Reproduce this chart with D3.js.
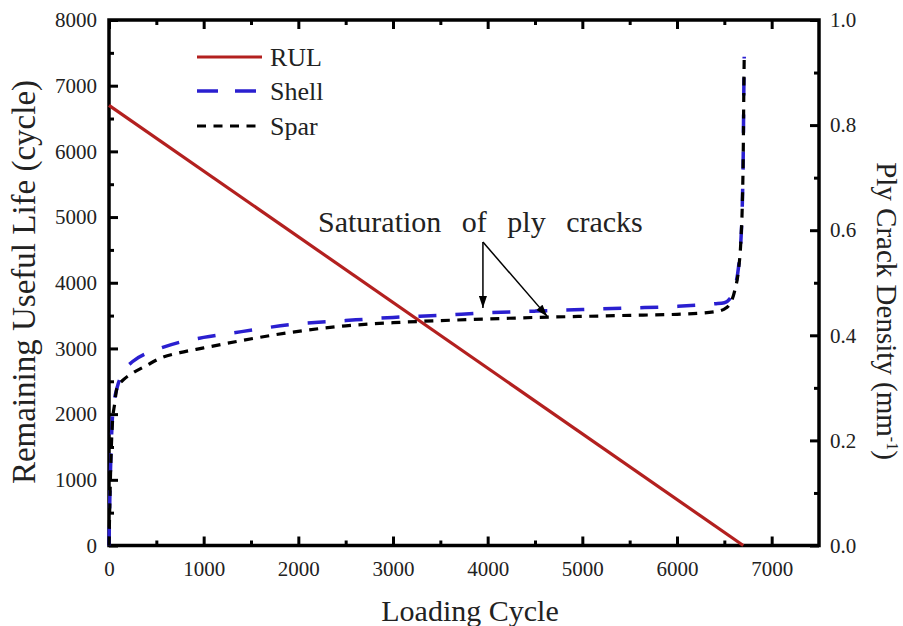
<!DOCTYPE html>
<html><head><meta charset="utf-8">
<script src="https://cdn.jsdelivr.net/npm/d3@7"></script>
<style>body{margin:0;background:#fff;} text{font-family:"Liberation Serif","Times New Roman",serif;fill:#222;}</style>
</head><body>
<svg id="c" width="903" height="626"></svg>
<script>
const xTicks = [0,1000,2000,3000,4000,5000,6000,7000];
const yLeftTicks = [0,1000,2000,3000,4000,5000,6000,7000,8000];
const yRightTicks = [0.0,0.2,0.4,0.6,0.8,1.0];
const rulCycles = [0, 6700];
const rulValues = [6700, 0];
const cycles = [0,10,20,35,60,85,150,250,400,550,750,1000,1400,1900,2500,3000,3500,4000,4500,5000,5500,6000,6400,6500,6560,6610,6650,6675,6690,6700,6705,6710];
const shell = [0,0.10,0.17,0.24,0.28,0.30,0.33,0.35,0.366,0.376,0.387,0.396,0.407,0.42,0.428,0.434,0.438,0.443,0.446,0.449,0.452,0.455,0.46,0.462,0.47,0.49,0.53,0.58,0.65,0.75,0.85,0.93];
const spar = [0,0.09,0.16,0.23,0.27,0.30,0.315,0.328,0.343,0.357,0.367,0.376,0.39,0.405,0.418,0.424,0.428,0.431,0.434,0.436,0.438,0.440,0.445,0.45,0.46,0.485,0.525,0.58,0.65,0.75,0.85,0.93];

const svg = d3.select("#c");
const L=109, R=819, T=20, B=545.5;
const x = d3.scaleLinear().domain([0,7500]).range([L,R]);
const yL = d3.scaleLinear().domain([0,8000]).range([B,T]);
const yR = d3.scaleLinear().domain([0,1.0]).range([B,T]);

const minorX = d3.range(500,7500,1000);
const minorYL = d3.range(500,8000,1000);
const minorYR = d3.range(0.1,1.0,0.2);

function ticks(g, axis){ g.call(axis); g.select(".domain").remove(); g.selectAll("line").attr("stroke","#000").attr("stroke-width",3); g.selectAll("text").attr("font-size",21).attr("font-family","Liberation Serif").attr("fill","#222"); }

// bottom
svg.append("g").attr("transform",`translate(0,${B})`).call(g=>ticks(g,d3.axisBottom(x).tickValues(xTicks).tickSizeInner(-9).tickSizeOuter(0).tickPadding(16).tickFormat(d3.format("d"))));
svg.append("g").attr("transform",`translate(0,${B})`).call(g=>ticks(g,d3.axisBottom(x).tickValues(minorX).tickSize(-5).tickFormat("")));
// top
svg.append("g").attr("transform",`translate(0,${T})`).call(g=>ticks(g,d3.axisTop(x).tickValues(xTicks).tickSize(-9).tickFormat("")));
svg.append("g").attr("transform",`translate(0,${T})`).call(g=>ticks(g,d3.axisTop(x).tickValues(minorX).tickSize(-5).tickFormat("")));
// left
svg.append("g").attr("transform",`translate(${L},0)`).call(g=>ticks(g,d3.axisLeft(yL).tickValues(yLeftTicks).tickSizeInner(-9).tickSizeOuter(0).tickPadding(12).tickFormat(d3.format("d"))));
svg.append("g").attr("transform",`translate(${L},0)`).call(g=>ticks(g,d3.axisLeft(yL).tickValues(minorYL).tickSize(-5).tickFormat("")));
// right
svg.append("g").attr("transform",`translate(${R},0)`).call(g=>ticks(g,d3.axisRight(yR).tickValues(yRightTicks).tickSizeInner(-9).tickSizeOuter(0).tickPadding(11).tickFormat(d3.format(".1f"))));
svg.append("g").attr("transform",`translate(${R},0)`).call(g=>ticks(g,d3.axisRight(yR).tickValues(minorYR).tickSize(-5).tickFormat("")));

// frame
svg.append("rect").attr("x",L).attr("y",T).attr("width",R-L).attr("height",B-T).attr("fill","none").attr("stroke","#000").attr("stroke-width",3.5);

// RUL
const rul = rulCycles.map((c,i)=>[c,rulValues[i]]);
svg.append("path").datum(rul).attr("d",d3.line().x(d=>x(d[0])).y(d=>yL(d[1]))).attr("fill","none").attr("stroke","#b3201f").attr("stroke-width",3.2);

const shellD = cycles.map((c,i)=>[c,shell[i]]);
const sparD = cycles.map((c,i)=>[c,spar[i]]);
const ln = d3.line().x(d=>x(d[0])).y(d=>yR(d[1])).curve(d3.curveMonotoneX);
svg.append("path").datum(shellD).attr("d",ln).attr("fill","none").attr("stroke","#2a1fd0").attr("stroke-width",3.5).attr("stroke-dasharray","18,19");
svg.append("path").datum(sparD).attr("d",ln).attr("fill","none").attr("stroke","#000").attr("stroke-width",3.2).attr("stroke-dasharray","9,7.5");

// legend
const leg = [{n:"RUL",c:"#b3201f",d:null,w:3.2,y:57},{n:"Shell",c:"#2a1fd0",d:"21,17",w:3.5,y:91},{n:"Spar",c:"#000",d:"9,7.5",w:3.2,y:126}];
leg.forEach(l=>{
  svg.append("line").attr("x1",197).attr("x2",262).attr("y1",l.y).attr("y2",l.y).attr("stroke",l.c).attr("stroke-width",l.w).attr("stroke-dasharray",l.d);
  svg.append("text").attr("x",270).attr("y",l.y+9).attr("font-size",26).text(l.n);
});

// annotation
svg.append("text").attr("x",318).attr("y",232).attr("font-size",30).attr("word-spacing",13).text("Saturation of ply cracks");
svg.append("defs").append("marker").attr("id","ar").attr("viewBox","0 0 12 8").attr("refX",12).attr("refY",4).attr("markerWidth",13).attr("markerHeight",8).attr("markerUnits","userSpaceOnUse").attr("orient","auto")
  .append("path").attr("d","M0,0 L12,4 L0,8 z").attr("fill","#000");
const ax0=3950, ay0=4620;
svg.append("line").attr("x1",x(ax0)).attr("y1",yL(ay0)).attr("x2",x(3950)).attr("y2",yR(0.452)).attr("stroke","#000").attr("stroke-width",1.5).attr("marker-end","url(#ar)");
svg.append("line").attr("x1",x(ax0)).attr("y1",yL(ay0)).attr("x2",x(4630)).attr("y2",yR(0.436)).attr("stroke","#000").attr("stroke-width",1.5).attr("marker-end","url(#ar)");

// axis titles
svg.append("text").attr("x",470).attr("y",621).attr("text-anchor","middle").attr("font-size",30).text("Loading Cycle");
svg.append("text").attr("transform",`translate(35,282) rotate(-90)`).attr("text-anchor","middle").attr("font-size",33).text("Remaining Useful Life (cycle)");
const rt = svg.append("text").attr("transform",`translate(877,311) rotate(90)`).attr("text-anchor","middle").attr("font-size",29);
rt.append("tspan").text("Ply Crack Density (mm");
rt.append("tspan").attr("font-size",16).attr("dy",-10).text("-1");
rt.append("tspan").attr("dy",10).text(")");
</script>
</body></html>
